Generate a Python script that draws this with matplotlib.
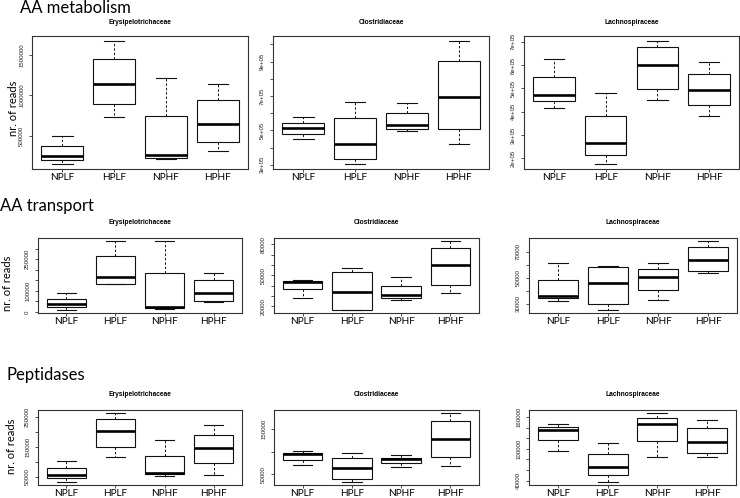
import matplotlib
matplotlib.use('Agg')
import matplotlib.pyplot as plt

# groups on the x axis
groups = ['NPLF', 'HPLF', 'NPHF', 'HPHF']
sections = ['AA metabolism', 'AA transport', 'Peptidases']
families = ['Erysipelotrichaceae', 'Clostridiaceae', 'Lachnospiraceae']

# box stats: [whisker low, Q1, median, Q3, whisker high]
met_erys = [[145800, 191700, 241700, 366700, 500000],
            [733000, 896000, 1146000, 1458000, 1679000],
            [212000, 225000, 258000, 746000, 1212000],
            [312000, 425000, 646000, 942000, 1137000]]
met_clos = [[449500, 478600, 513500, 544600, 577600],
            [303900, 335000, 420300, 571700, 663000],
            [496000, 505700, 531000, 602800, 659000],
            [420300, 505700, 694000, 903700, 1020000]]
met_lach = [[415800, 444000, 470000, 547000, 627000],
            [175700, 212900, 264300, 381500, 481500],
            [451500, 498700, 601500, 678700, 703000],
            [380000, 430000, 494400, 563000, 611600]]

tra_erys = [[7900, 25300, 38000, 63300, 88600],
            [131300, 132900, 167700, 265800, 333900],
            [14200, 17400, 22000, 182000, 337000],
            [47500, 53800, 88600, 150300, 183500]]
tra_clos = [[28150, 36300, 43800, 44450, 45100],
            [16100, 16700, 34000, 53600, 57200],
            [26200, 28150, 31100, 39900, 48400],
            [32400, 40200, 59800, 77000, 83600]]
tra_lach = [[31600, 33900, 35750, 48600, 61400],
            [24800, 29700, 46200, 58000, 59300],
            [32600, 40200, 50400, 56400, 61100],
            [53300, 55400, 63700, 73900, 78600]]

pep_erys = [[30900, 44400, 54500, 78100, 102800],
            [115200, 147800, 204000, 243300, 263600],
            [51100, 59000, 62400, 118600, 172500],
            [54500, 95000, 145500, 188300, 223100]]
pep_clos = [[70000, 81900, 95200, 97400, 101800],
            [32200, 40400, 63300, 87000, 98100],
            [67000, 75200, 84800, 87000, 91500],
            [67800, 87800, 127800, 167000, 186300]]
pep_lach = [[96200, 115800, 136000, 140400, 146700],
            [36800, 50700, 66500, 89300, 110100],
            [84200, 114500, 146700, 158100, 168200],
            [84200, 91800, 113300, 139200, 154300]]

# y ticks and the labels R managed to print
met_erys_ticks = [500000, 1000000, 1500000]
met_erys_labels = ['500000', '1000000', '1500000']
met_clos_ticks = [300000, 400000, 500000, 600000, 700000, 800000, 900000, 1000000]
met_clos_labels = ['3e+05', '', '5e+05', '', '7e+05', '', '9e+05', '']
met_lach_ticks = [200000, 300000, 400000, 500000, 600000, 700000]
met_lach_labels = ['2e+05', '3e+05', '4e+05', '5e+05', '6e+05', '7e+05']
tra_erys_ticks = [0, 50000, 100000, 150000, 200000, 250000, 300000]
tra_erys_labels = ['0', '', '100000', '', '', '250000', '']
tra_clos_ticks = [20000, 30000, 40000, 50000, 60000, 70000, 80000]
tra_clos_labels = ['20000', '', '', '50000', '', '', '80000']
tra_lach_ticks = [30000, 40000, 50000, 60000, 70000]
tra_lach_labels = ['30000', '', '50000', '', '70000']
pep_erys_ticks = [50000, 100000, 150000, 200000, 250000]
pep_erys_labels = ['50000', '', '150000', '', '250000']
pep_clos_ticks = [50000, 100000, 150000]
pep_clos_labels = ['50000', '', '150000']
pep_lach_ticks = [40000, 60000, 80000, 100000, 120000, 140000, 160000]
pep_lach_labels = ['40000', '', '', '100000', '', '', '160000']

panels = [[(met_erys, met_erys_ticks, met_erys_labels),
           (met_clos, met_clos_ticks, met_clos_labels),
           (met_lach, met_lach_ticks, met_lach_labels)],
          [(tra_erys, tra_erys_ticks, tra_erys_labels),
           (tra_clos, tra_clos_ticks, tra_clos_labels),
           (tra_lach, tra_lach_ticks, tra_lach_labels)],
          [(pep_erys, pep_erys_ticks, pep_erys_labels),
           (pep_clos, pep_clos_ticks, pep_clos_labels),
           (pep_lach, pep_lach_ticks, pep_lach_labels)]]

W, H = 740, 498
# axes boxes in pixels: left, top, right, bottom
rects = [[(32, 36, 248, 169), (273, 36, 489, 169), (524, 36, 739, 169)],
         [(38, 238, 242, 313), (274, 238, 479, 313), (529, 238, 737, 313)],
         [(38, 410, 242, 485), (274, 410, 479, 485), (529, 410, 736, 485)]]
title_y = [23, 222, 394.5]
section_pos = [(20, 13), (0, 210.5), (7, 380)]
ylab_pos = [(13.5, 108), (8, 283), (12, 446)]

fig = plt.figure(figsize=(W / 100, H / 100), dpi=100)

for r in range(3):
    for c in range(3):
        stats, ticks, labels = panels[r][c]
        l, t, rr, b = rects[r][c]
        ax = fig.add_axes([l / W, 1 - b / H, (rr - l) / W, (b - t) / H])
        bx = [dict(whislo=s[0], q1=s[1], med=s[2], q3=s[3], whishi=s[4], fliers=[])
              for s in stats]
        ax.bxp(bx, positions=[1, 2, 3, 4], widths=0.8, capwidths=0.4,
               showfliers=False, patch_artist=True,
               boxprops=dict(facecolor='white', edgecolor='#111111', lw=0.8),
               medianprops=dict(color='black', lw=1.9, solid_capstyle='butt'),
               whiskerprops=dict(color='#111111', lw=0.7, linestyle=(0, (2.5, 2))),
               capprops=dict(color='#111111', lw=0.8))
        lo = min(s[0] for s in stats)
        hi = max(s[4] for s in stats)
        pad = 0.04 * (hi - lo)
        ax.set_ylim(lo - pad, hi + pad)
        ax.set_xlim(0.42, 4.58)
        ax.set_xticks([1, 2, 3, 4])
        ax.set_xticklabels(groups, fontsize=7.2, family='Lato')
        ax.set_yticks(ticks)
        ax.set_yticklabels(labels, rotation=90, va='center', fontsize=4.4,
                           family='Liberation Sans', color='#222222')
        ax.tick_params(axis='y', length=2.2, width=0.6, pad=3.5, color='#333333')
        ax.tick_params(axis='x', length=2.2, width=0.6, pad=0.6, color='#333333')
        for sp in ax.spines.values():
            sp.set_linewidth(0.8)
            sp.set_color('#333333')
        fig.text((l + rr) / 2 / W, 1 - title_y[r] / H, families[c],
                 ha='center', va='center', fontsize=4.8, fontweight='bold',
                 family='Liberation Sans')

for r in range(3):
    x, y = section_pos[r]
    fig.text(x / W, 1 - y / H, sections[r], ha='left', va='baseline',
             fontsize=12, family='Lato')
    x, y = ylab_pos[r]
    fig.text(x / W, 1 - y / H, 'nr. of reads', ha='center', va='center',
             rotation=90, fontsize=8, family='Lato')

fig.savefig('out.png', dpi=100, facecolor='white')
